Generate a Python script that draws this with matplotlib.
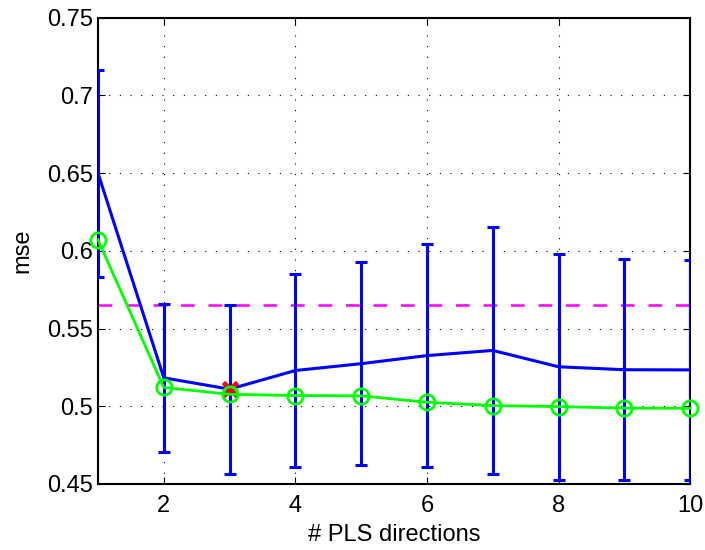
import matplotlib
matplotlib.use("Agg")
import matplotlib.pyplot as plt
import numpy as np

plt.rcParams['font.family'] = ['Liberation Sans', 'DejaVu Sans']

# number of PLS directions
n_dirs = [1, 2, 3, 4, 5, 6, 7, 8, 9, 10]
# cross-validated mse (mean) and its standard error
cv_mean = [0.650, 0.5183, 0.5110, 0.5230, 0.5274, 0.5326, 0.5359, 0.5254, 0.5235, 0.5234]
cv_err = [0.0666, 0.0474, 0.0543, 0.0621, 0.0652, 0.0717, 0.0794, 0.0727, 0.0710, 0.0708]
# training mse
train_mse = [0.6071, 0.5121, 0.5077, 0.5069, 0.5067, 0.5026, 0.5004, 0.4998, 0.4988, 0.4987]
# reference level and selected model
ref_level = 0.565
best_dir = 3
best_mse = 0.5113

xticks = [2, 4, 6, 8, 10]
yticks = [0.45, 0.5, 0.55, 0.6, 0.65, 0.7, 0.75]
ytick_labels = ['0.45', '0.5', '0.55', '0.6', '0.65', '0.7', '0.75']

fig = plt.figure(figsize=(7.05, 5.5), dpi=100)
ax = fig.add_axes([0.139, 0.12, 0.840, 0.848])

ax.errorbar(n_dirs, cv_mean, yerr=cv_err, color=(0, 0, 1), lw=2.2,
            elinewidth=2.2, capsize=4.3, capthick=2.2, zorder=3)
ax.axhline(ref_level, color=(1, 0, 1), lw=1.8, ls=(0, (5.5, 5.5)), zorder=2)
ax.plot([best_dir], [best_mse], 'x', color=(1, 0, 0), ms=10, mew=3.5, zorder=4)
ax.plot(n_dirs, train_mse, '-o', color=(0, 1, 0), lw=2.0, ms=11,
        mfc='none', mew=2.0, zorder=5, clip_on=False)

ax.set_xlim(1, 10)
ax.set_ylim(0.45, 0.75)
ax.set_xticks(xticks)
ax.set_yticks(yticks)
ax.set_yticklabels(ytick_labels)
ax.grid(True, color='black', ls=(0, (1, 8.6)), lw=0.8)
ax.tick_params(direction='in', top=True, right=True, length=5, width=0.8,
               labelsize=17)
ax.tick_params(axis='x', pad=8)
ax.tick_params(axis='y', pad=3.5)
for s in ax.spines.values():
    s.set_linewidth(1.5)
ax.set_xlabel('# PLS directions', fontsize=17, labelpad=5)
ax.set_ylabel('mse', fontsize=17, labelpad=10)

fig.savefig('out.png', dpi=100)
